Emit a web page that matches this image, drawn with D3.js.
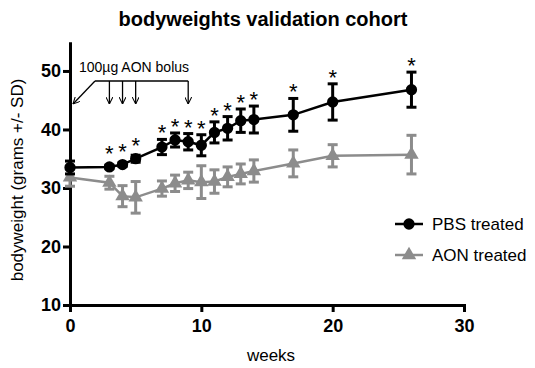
<!DOCTYPE html>
<html>
<head>
  <meta charset="utf-8">
  <title>bodyweights validation cohort</title>
  <script src="https://cdn.jsdelivr.net/npm/d3@7"></script>
  <style>
    body { margin: 0; background: #fff; }
    svg { font-family: "Liberation Sans", Arial, sans-serif; }
    .axis path, .axis line { stroke: #000; stroke-width: 3; }
    .axis text { font-size: 18px; font-weight: bold; fill: #000; }
  </style>
</head>
<body>
<svg id="chart" width="535" height="368"></svg>
<script>
  // data
  const weeks = [0, 3, 4, 5, 7, 8, 9, 10, 11, 12, 13, 14, 17, 20, 26];
  const pbsMean = [33.5, 33.6, 34.0, 35.0, 37.0, 38.2, 37.9, 37.3, 39.5, 40.2, 41.5, 41.7, 42.5, 44.7, 46.8];
  const pbsSD = [1.1, 0.3, 0.3, 0.6, 1.3, 1.2, 1.4, 1.8, 1.8, 2.0, 2.0, 2.3, 2.8, 3.1, 3.0];
  const aonMean = [31.8, 30.9, 28.6, 28.4, 29.9, 30.8, 31.3, 31.0, 31.1, 31.9, 32.4, 32.9, 34.2, 35.5, 35.7];
  const aonSD = [1.5, 1.1, 1.8, 2.7, 1.3, 1.4, 1.4, 2.8, 2.0, 1.7, 1.7, 1.9, 2.3, 1.9, 3.3];
  const starWeeks = [3, 4, 5, 7, 8, 9, 10, 11, 12, 13, 14, 17, 20, 26];
  const bolusWeeks = [0, 3, 4, 5, 9];
  const xTicks = [0, 10, 20, 30];
  const yTicks = [10, 20, 30, 40, 50];

  const svg = d3.select('#chart');
  const x = d3.scaleLinear().domain([0, 30]).range([70, 464]);
  const y = d3.scaleLinear().domain([10, 55]).range([305, 41.7]);

  const black = '#000', grey = '#8c8c8c';

  // axes
  svg.append('g')
    .attr('class', 'axis')
    .attr('transform', 'translate(0,' + y(10) + ')')
    .call(d3.axisBottom(x).tickValues(xTicks).tickSize(7).tickSizeOuter(7).tickPadding(7));
  svg.append('g')
    .attr('class', 'axis')
    .attr('transform', 'translate(' + x(0) + ',0)')
    .call(d3.axisLeft(y).tickValues(yTicks).tickSize(7).tickSizeOuter(0).tickPadding(2));

  // titles
  svg.append('text')
    .attr('x', 263).attr('y', 26)
    .attr('text-anchor', 'middle')
    .style('font-size', '20px').style('font-weight', 'bold')
    .text('bodyweights validation cohort');
  svg.append('text')
    .attr('x', 271).attr('y', 361)
    .attr('text-anchor', 'middle')
    .style('font-size', '17px')
    .text('weeks');
  svg.append('text')
    .attr('transform', 'translate(23,' + 180 + ') rotate(-90)')
    .attr('text-anchor', 'middle')
    .style('font-size', '17px')
    .text('bodyweight (grams +/- SD)');

  // series
  const series = [
    { name: 'AON treated', mean: aonMean, sd: aonSD, color: grey, shape: d3.symbolTriangle },
    { name: 'PBS treated', mean: pbsMean, sd: pbsSD, color: black, shape: d3.symbolCircle }
  ];

  const line = d3.line().x(d => x(d[0])).y(d => y(d[1]));

  series.forEach(s => {
    const pts = weeks.map((w, i) => [w, s.mean[i], s.sd[i]]);
    const g = svg.append('g');
    g.append('path')
      .attr('d', line(pts))
      .attr('fill', 'none')
      .attr('stroke', s.color)
      .attr('stroke-width', 2.5);
    const eb = g.selectAll('.eb').data(pts).enter().append('g');
    eb.append('line')
      .attr('x1', d => x(d[0])).attr('x2', d => x(d[0]))
      .attr('y1', d => y(d[1] - d[2])).attr('y2', d => y(d[1] + d[2]))
      .attr('stroke', s.color).attr('stroke-width', 3);
    [1, -1].forEach(k => {
      eb.append('line')
        .attr('x1', d => x(d[0]) - 5).attr('x2', d => x(d[0]) + 5)
        .attr('y1', d => y(d[1] + k * d[2])).attr('y2', d => y(d[1] + k * d[2]))
        .attr('stroke', s.color).attr('stroke-width', 3);
    });
    g.selectAll('.pt').data(pts).enter().append('path')
      .attr('d', d3.symbol().type(s.shape).size(s.shape === d3.symbolCircle ? 100 : 90))
      .attr('transform', d => 'translate(' + x(d[0]) + ',' + y(d[1]) + ')')
      .attr('fill', s.color);
  });

  // significance stars
  svg.selectAll('.star').data(starWeeks).enter().append('text')
    .attr('x', w => x(w))
    .attr('y', w => {
      const i = weeks.indexOf(w);
      return Math.min(y(pbsMean[i] + pbsSD[i]) + 1, y(pbsMean[i]) - 6);
    })
    .attr('text-anchor', 'middle')
    .style('font-size', '22px')
    .text('*');

  // bolus annotation
  svg.append('text')
    .attr('x', 79).attr('y', 72)
    .style('font-size', '14px')
    .text('100µg AON bolus');
  const bracketY = 81, arrowEnd = 104;
  svg.append('line')
    .attr('x1', 95).attr('x2', x(9))
    .attr('y1', bracketY).attr('y2', bracketY)
    .attr('stroke', black).attr('stroke-width', 1.3);
  svg.append('defs').append('marker')
    .attr('id', 'arr').attr('viewBox', '0 0 10 10')
    .attr('refX', 10).attr('refY', 5)
    .attr('markerWidth', 7).attr('markerHeight', 7)
    .attr('markerUnits', 'userSpaceOnUse')
    .attr('orient', 'auto')
    .append('path').attr('d', 'M0,0 L10,5 L0,10')
    .attr('fill', 'none').attr('stroke', black).attr('stroke-width', 1.5);
  svg.selectAll('.arrow').data(bolusWeeks).enter().append('line')
    .attr('x1', w => w === 0 ? 95 : x(w))
    .attr('y1', bracketY)
    .attr('x2', w => w === 0 ? x(w) + 3 : x(w))
    .attr('y2', arrowEnd)
    .attr('stroke', black).attr('stroke-width', 1.3)
    .attr('marker-end', 'url(#arr)');

  // legend
  const legend = svg.append('g');
  series.slice().reverse().forEach((s, i) => {
    const ly = 224 + i * 31;
    legend.append('line')
      .attr('x1', 395).attr('x2', 423).attr('y1', ly).attr('y2', ly)
      .attr('stroke', s.color).attr('stroke-width', 2.5);
    legend.append('path')
      .attr('d', d3.symbol().type(s.shape).size(s.shape === d3.symbolCircle ? 100 : 90))
      .attr('transform', 'translate(409,' + ly + ')')
      .attr('fill', s.color);
    legend.append('text')
      .attr('x', 432).attr('y', ly + 6)
      .style('font-size', '17px')
      .text(s.name);
  });
</script>
</body>
</html>
